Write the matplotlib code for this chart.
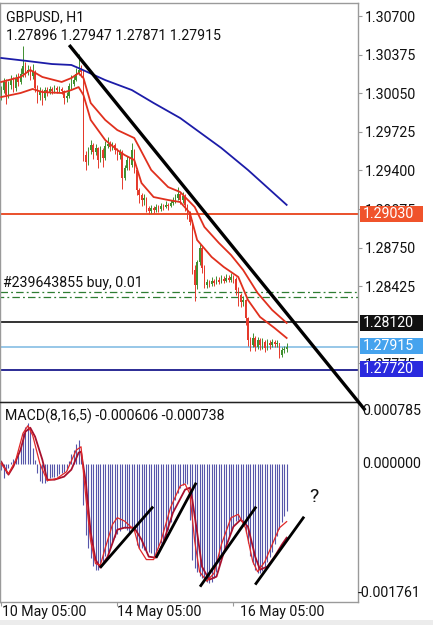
import matplotlib
matplotlib.use('Agg')
import matplotlib.pyplot as plt
from matplotlib.patches import Rectangle
import numpy as np

plt.rcParams['font.family'] = ['Roboto', 'DejaVu Sans']

# ---- price data (H1 candles, index 0 = 10 May 05:00) ----
first_open = 1.30035
closes = [1.30077, 1.30145, 1.30035, 1.30119, 1.30161, 1.30094, 1.30178, 1.30145, 1.30212, 1.30279,
          1.30229, 1.30246, 1.30195, 1.30229, 1.30094, 1.30035, 1.30060, 1.30010, 1.30077, 1.30060,
          1.30086, 1.30069, 1.30094, 1.30077, 1.30086, 1.30069, 1.30010, 1.30027, 1.30111, 1.30128,
          1.30161, 1.30212, 1.30246, 1.30229, 1.29530, 1.29471, 1.29572, 1.29614, 1.29555, 1.29589,
          1.29488, 1.29572, 1.29505, 1.29606, 1.29623, 1.29597, 1.29614, 1.29572, 1.29530, 1.29555,
          1.29336, 1.29420, 1.29488, 1.29446, 1.29572, 1.29404, 1.29235, 1.29193, 1.29151, 1.29168,
          1.29084, 1.29058, 1.29084, 1.29067, 1.29092, 1.29075, 1.29100, 1.29092, 1.29109, 1.29100,
          1.29126, 1.29151, 1.29168, 1.29202, 1.29151, 1.29185, 1.29109, 1.29050, 1.28966, 1.28562,
          1.28435, 1.28629, 1.28747, 1.28578, 1.28435, 1.28461, 1.28444, 1.28469, 1.28452, 1.28477,
          1.28461, 1.28486, 1.28469, 1.28494, 1.28477, 1.28503, 1.28486, 1.28393, 1.28351, 1.28292,
          1.28309, 1.28157, 1.27972, 1.27930, 1.27989, 1.27913, 1.27972, 1.27930, 1.27955, 1.27905,
          1.27947, 1.27930, 1.27955, 1.27938, 1.27947, 1.27846, 1.27888, 1.27896, 1.27915]
highs = [1.30110, 1.30180, 1.30170, 1.30150, 1.30200, 1.30190, 1.30210, 1.30220, 1.30260, 1.30450,
         1.30310, 1.30290, 1.30280, 1.30300, 1.30250, 1.30120, 1.30100, 1.30090, 1.30100, 1.30100,
         1.30110, 1.30100, 1.30120, 1.30110, 1.30110, 1.30100, 1.30080, 1.30060, 1.30140, 1.30200,
         1.30200, 1.30260, 1.30380, 1.30290, 1.30250, 1.29560, 1.29600, 1.29660, 1.29630, 1.29620,
         1.29600, 1.29610, 1.29590, 1.29650, 1.29680, 1.29650, 1.29640, 1.29630, 1.29590, 1.29580,
         1.29570, 1.29450, 1.29520, 1.29510, 1.29630, 1.29580, 1.29420, 1.29250, 1.29210, 1.29200,
         1.29180, 1.29100, 1.29110, 1.29100, 1.29120, 1.29110, 1.29130, 1.29120, 1.29140, 1.29130,
         1.29150, 1.29180, 1.29200, 1.29260, 1.29220, 1.29220, 1.29200, 1.29120, 1.29060, 1.28980,
         1.28600, 1.28650, 1.28780, 1.28760, 1.28600, 1.28490, 1.28480, 1.28500, 1.28490, 1.28510,
         1.28500, 1.28520, 1.28510, 1.28530, 1.28520, 1.28540, 1.28520, 1.28500, 1.28420, 1.28370,
         1.28340, 1.28320, 1.28170, 1.28000, 1.28030, 1.28010, 1.28000, 1.27990, 1.27990, 1.27970,
         1.27980, 1.27970, 1.27980, 1.27970, 1.27970, 1.27950, 1.27910, 1.27920, 1.27947]
lows = [1.29990, 1.30050, 1.29960, 1.30010, 1.30090, 1.30060, 1.30070, 1.30110, 1.30130, 1.30190,
        1.30190, 1.30200, 1.30160, 1.30170, 1.30060, 1.29970, 1.29990, 1.29950, 1.29990, 1.30030,
        1.30040, 1.30040, 1.30050, 1.30050, 1.30060, 1.30040, 1.29960, 1.29980, 1.30010, 1.30090,
        1.30110, 1.30150, 1.30200, 1.30190, 1.29480, 1.29400, 1.29450, 1.29540, 1.29500, 1.29530,
        1.29420, 1.29470, 1.29430, 1.29490, 1.29590, 1.29560, 1.29570, 1.29540, 1.29490, 1.29500,
        1.29240, 1.29320, 1.29400, 1.29400, 1.29430, 1.29380, 1.29190, 1.29130, 1.29100, 1.29110,
        1.29050, 1.29030, 1.29040, 1.29040, 1.29050, 1.29050, 1.29060, 1.29070, 1.29080, 1.29070,
        1.29090, 1.29110, 1.29130, 1.29150, 1.29120, 1.29130, 1.29060, 1.28990, 1.28940, 1.28530,
        1.28300, 1.28400, 1.28600, 1.28540, 1.28410, 1.28410, 1.28420, 1.28430, 1.28430, 1.28440,
        1.28440, 1.28450, 1.28450, 1.28460, 1.28460, 1.28460, 1.28450, 1.28350, 1.28260, 1.28250,
        1.28260, 1.28100, 1.27920, 1.27880, 1.27910, 1.27880, 1.27900, 1.27890, 1.27900, 1.27870,
        1.27890, 1.27900, 1.27910, 1.27910, 1.27910, 1.27820, 1.27830, 1.27860, 1.27871]

# moving averages (read at sample candles)
blue_idx = [0, 11, 21, 29, 32, 43, 54, 63, 74, 91, 102, 118]
blue_ma = [1.30347, 1.30321, 1.30296, 1.30288, 1.30262, 1.30161, 1.30077, 1.29968, 1.29841,
           1.29589, 1.29404, 1.29110]
red_up_idx = [0, 8, 12, 17, 25, 29, 32, 34, 37, 43, 48, 55, 57, 62, 69, 74, 80, 84, 90, 95,
              100, 106, 112, 118]
red_up = [1.30145, 1.30187, 1.30246, 1.30187, 1.30145, 1.30178, 1.30220, 1.30178, 1.29968, 1.29825,
          1.29740, 1.29673, 1.29597, 1.29404, 1.29260, 1.29218, 1.29092, 1.28924, 1.28789, 1.28688,
          1.28562, 1.28368, 1.28225, 1.28116]
red_lo_idx = [0, 8, 13, 17, 25, 29, 32, 34, 37, 43, 48, 51, 55, 58, 63, 69, 74, 78, 81, 87, 92,
              98, 102, 107, 113, 118]
red_lo = [1.30018, 1.30052, 1.30086, 1.30060, 1.30052, 1.30077, 1.30102, 1.30035, 1.29825, 1.29656,
          1.29572, 1.29530, 1.29488, 1.29294, 1.29176, 1.29151, 1.29134, 1.29042, 1.28814, 1.28671,
          1.28587, 1.28503, 1.28309, 1.28166, 1.28073, 1.27989]

# 1.28100 sits fully behind the 1.28120 box, so it is left out
price_ticks = [1.30700, 1.30375, 1.30050, 1.29725, 1.29400, 1.29075, 1.28750, 1.28425, 1.27775]
level_sell = 1.29030
order_a, order_b = 1.28376, 1.28334
level_black = 1.28120
bid = 1.27915
level_blue = 1.27720
trend_pts = [(28.1, 1.30456), (150.5, 1.27380)]

# ---- MACD(8,16,5) ----
macd_hist = [-0.000076, -0.000178, -0.000115, -0.000051, 0.000025, 0.000064, 0.000076, 0.000115, 0.000242, 0.000395,
             0.000471, 0.000522, 0.000458, 0.000204, 0.000051, -0.000115, -0.000216, -0.000242, -0.000242, -0.000216,
             -0.000178, -0.000165, -0.000165, -0.000153, -0.000127, -0.000115, -0.000102, -0.000076, 0.000038, 0.000127,
             0.000178, 0.000255, 0.000306, 0.000140, -0.000522, -0.000904, -0.001069, -0.001197, -0.001298, -0.001349,
             -0.001349, -0.001311, -0.001248, -0.001171, -0.001120, -0.001069, -0.000993, -0.000929, -0.000891, -0.000853,
             -0.000815, -0.000815, -0.000840, -0.000866, -0.000815, -0.000802, -0.001031, -0.001069, -0.001069, -0.001095,
             -0.001095, -0.001120, -0.001133, -0.001171, -0.001133, -0.001069, -0.001006, -0.000967, -0.000917, -0.000840,
             -0.000738, -0.000586, -0.000458, -0.000369, -0.000306, -0.000267, -0.000242, -0.000255, -0.000713, -0.001222,
             -0.001324, -0.001375, -0.001426, -0.001451, -0.001477, -0.001502, -0.001515, -0.001502, -0.001451, -0.001375,
             -0.001286, -0.001197, -0.001095, -0.001018, -0.000929, -0.000853, -0.000789, -0.000726, -0.000713, -0.000726,
             -0.000789, -0.000878, -0.001006, -0.001171, -0.001273, -0.001349, -0.001388, -0.001388, -0.001362, -0.001311,
             -0.001248, -0.001184, -0.001120, -0.001020, -0.000920, -0.000830, -0.000740, -0.000670, -0.000606]
dark_idx = [0, 3, 5, 8, 10, 12, 14, 17, 19, 22, 26, 29, 32, 33, 35, 37, 39, 41, 44, 48, 51, 55, 58,
            61, 64, 67, 71, 76, 78, 79, 81, 83, 86, 89, 92, 96, 99, 102, 105, 107, 110, 113, 116, 118]
dark_line = [0.000025, -0.000140, -0.000038, 0.000178, 0.000407, 0.000458, 0.000344, 0.000051, -0.000204,
             -0.000204, -0.000165, -0.000076, 0.000140, 0.000153, -0.000242, -0.000878, -0.001222, -0.001324,
             -0.001184, -0.000840, -0.000815, -0.000815, -0.000967, -0.001184, -0.001197, -0.001006, -0.000624,
             -0.000331, -0.000306, -0.000458, -0.000878, -0.001311, -0.001477, -0.001438, -0.001133, -0.000802,
             -0.000713, -0.000802, -0.001184, -0.001349, -0.001311, -0.001184, -0.001031, -0.000942]
thin_idx = [0, 3, 6, 9, 11, 13, 16, 19, 23, 27, 31, 33, 35, 37, 39, 41, 43, 46, 48, 51, 55, 57, 60,
            63, 66, 70, 74, 76, 78, 80, 82, 85, 88, 91, 95, 98, 101, 104, 106, 109, 112, 115, 118]
thin_line = [0.000000, -0.000129, 0.000043, 0.000387, 0.000482, 0.000361, 0.000000, -0.000215, -0.000189,
             -0.000103, 0.000172, 0.000215, -0.000430, -0.000989, -0.001273, -0.001290, -0.001075, -0.000774,
             -0.000688, -0.000731, -0.000843, -0.001075, -0.001221, -0.001221, -0.000989, -0.000559, -0.000284,
             -0.000258, -0.000387, -0.000989, -0.001376, -0.001496, -0.001393, -0.001032, -0.000688, -0.000645,
             -0.000817, -0.001247, -0.001376, -0.001247, -0.001032, -0.000817, -0.000738]
macd_trends = [((40.9, -0.001324), (62.8, -0.000547)),
               ((64.0, -0.001197), (80.6, -0.000242)),
               ((82.2, -0.001566), (105.4, -0.000547)),
               ((105.0, -0.001540), (125.2, -0.000675))]

W, H = 433, 625
fig = plt.figure(figsize=(W / 100, H / 100), dpi=100)
fig.patch.set_facecolor('white')


def fx(x):
    return x / W


def fy(y):
    return 1 - y / H


FS = 10.2
grid_col = '#9a9a9a'

ax = fig.add_axes([fx(0), fy(402), fx(358), (402 - 3) / H])
mac = fig.add_axes([fx(0), fy(602), fx(358), 200 / H])
ax.set_zorder(3)
for a in (ax, mac):
    a.set_facecolor('none')
    a.set_xlim(-0.5, 147.5)
    for s in a.spines.values():
        s.set_color(grid_col)
        s.set_linewidth(1)
ax.spines['bottom'].set_color('#222222')

ax.set_ylim(1.27450, 1.30810)
mac.set_ylim(-0.001761, 0.000785)

# candles
idx = np.arange(len(closes))
opens = [first_open] + closes[:-1]
up_col, dn_col = '#3f8f2f', '#e5392b'
cols = [up_col if c >= o else dn_col for o, c in zip(opens, closes)]
ax.vlines(idx, lows, highs, colors=cols, linewidth=0.7, zorder=2)
body = [max(abs(c - o), 0.00003) for o, c in zip(opens, closes)]
ax.bar(idx, body, bottom=np.minimum(opens, closes), width=0.6, color=cols, linewidth=0, zorder=2)

# moving averages
ax.plot(blue_idx, blue_ma, color='#1c1ca8', lw=1.3, zorder=3)
ax.plot(red_up_idx, red_up, color='#e0301e', lw=1.3, zorder=3)
ax.plot(red_lo_idx, red_lo, color='#e0301e', lw=1.3, zorder=3)

# horizontal levels
ax.axhline(level_sell, color='#e8421a', lw=1.3, zorder=1)
ax.axhline(order_a, color='#2e7d32', lw=0.9, ls=(0, (6, 2.5, 1.5, 2.5)), zorder=1)
ax.axhline(order_b, color='#2e7d32', lw=0.9, ls=(3, (6, 2.5, 1.5, 2.5)), zorder=1)
ax.axhline(level_black, color='#111111', lw=1.2, zorder=1)
ax.axhline(bid, color='#8fc3e6', lw=1.3, zorder=1)
ax.axhline(level_blue, color='#1a1a8c', lw=1.3, zorder=1)

# trend line
(tx0, ty0), (tx1, ty1) = trend_pts
ax.plot([tx0, tx1], [ty0, ty1], color='black', lw=2.4, solid_capstyle='butt',
        clip_on=False, zorder=6)

# price axis
ax.set_xticks([])
ax.yaxis.tick_right()
ax.set_yticks(price_ticks)
ax.set_yticklabels(['%.5f' % p for p in price_ticks])
ax.tick_params(axis='y', length=3, pad=2, labelsize=FS, color=grid_col, labelcolor='#111111')

# texts in main panel
fig.text(fx(6), fy(17), 'GBPUSD, H1', fontsize=FS, va='center', ha='left', color='#111111')
fig.text(fx(6), fy(36), '1.27896 1.27947 1.27871 1.27915', fontsize=FS, va='center', ha='left',
         color='#111111')
fig.text(fx(3), fy(283), '#239643855 buy, 0.01', fontsize=FS, va='center', ha='left', color='#111111')

# price boxes on the right axis
boxes = [(level_sell, 214, '#f0532b'), (level_black, 323, '#111111'),
         (bid, 346, '#45a3ee'), (level_blue, 369, '#2a2ade')]
for val, ypx, col in boxes:
    fig.add_artist(Rectangle((fx(360), fy(ypx + 8)), fx(63), 16 / H, transform=fig.transFigure,
                             facecolor=col, edgecolor='none', zorder=8))
    fig.text(fx(363), fy(ypx), '%.5f' % val, fontsize=FS, color='white', va='center', ha='left',
             zorder=9)

# MACD panel
mac.vlines(idx, 0, macd_hist, colors='#5656aa', linewidth=0.8, zorder=1)
mac.plot(thin_idx, thin_line, color='#e02828', lw=0.9, zorder=3)
mac.plot(dark_idx, dark_line, color='#a8102e', lw=1.3, zorder=2)
for (x0, y0), (x1, y1) in macd_trends:
    mac.plot([x0, x1], [y0, y1], color='black', lw=2.0, solid_capstyle='butt', zorder=4)
mac.text(129.3, -0.000420, '?', fontsize=14, ha='center', va='center', color='#111111')
mac.set_yticks([])
mac.set_xticks([0, 48, 96])
mac.set_xticklabels([])
mac.tick_params(axis='x', length=3, color=grid_col)

fig.text(fx(5), fy(416), 'MACD(8,16,5) -0.000606 -0.000738', fontsize=FS, va='center', ha='left',
         color='#111111')
fig.text(fx(362), fy(411), '0.000785', fontsize=FS, va='center', ha='left', color='#111111')
fig.text(fx(362), fy(464), '0.000000', fontsize=FS, va='center', ha='left', color='#111111')
fig.text(fx(358), fy(593), '-0.001761', fontsize=FS, va='center', ha='left', color='#111111')

# time labels
for xp, lab in [(2, '10 May 05:00'), (117, '14 May 05:00'), (240, '16 May 05:00')]:
    fig.text(fx(xp), fy(612), lab, fontsize=FS, va='center', ha='left', color='#111111')

fig.add_artist(Rectangle((0, 0), 1, 5 / H, transform=fig.transFigure, facecolor='#ececec',
                         edgecolor='none', zorder=0))

fig.savefig('out.png', dpi=100)
plt.close(fig)
